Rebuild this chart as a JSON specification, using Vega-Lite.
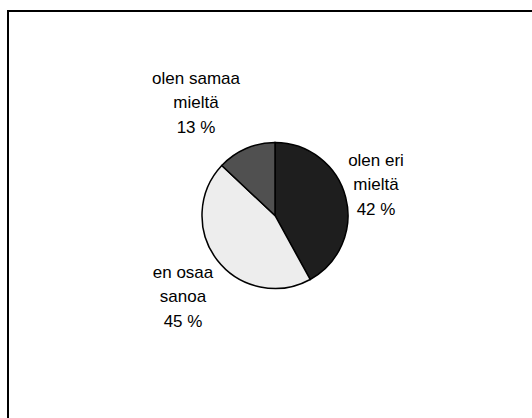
{
  "$schema": "https://vega.github.io/schema/vega-lite/v6.json",
  "width": 534,
  "height": 409,
  "autosize": {"type": "none"},
  "padding": {"left": 8, "top": 11, "right": -10, "bottom": -2},
  "background": "white",
  "view": {"stroke": "black", "strokeWidth": 2, "fill": "white"},
  "data": {
    "values": [
      {"n": 1, "category": "olen eri mieltä", "share": 42, "label": "olen eri\nmieltä\n42 %"},
      {"n": 2, "category": "en osaa sanoa", "share": 45, "label": "en osaa\nsanoa\n45 %"},
      {"n": 3, "category": "olen samaa mieltä", "share": 13, "label": "olen samaa\nmieltä\n13 %"}
    ]
  },
  "layer": [
    {
      "mark": {"type": "arc", "outerRadius": 73, "stroke": "black", "strokeWidth": 1.5},
      "encoding": {
        "theta": {"field": "share", "type": "quantitative", "stack": true},
        "color": {
          "field": "category",
          "type": "nominal",
          "scale": {
            "domain": ["olen eri mieltä", "en osaa sanoa", "olen samaa mieltä"],
            "range": ["#1e1e1e", "#ededed", "#505050"]
          },
          "legend": null
        },
        "order": {"field": "n", "type": "quantitative", "sort": "ascending"}
      }
    },
    {
      "transform": [{"filter": "datum.category == 'olen eri mieltä'"}],
      "mark": {"type": "text", "font": "Liberation Sans", "fontSize": 17, "lineBreak": "\n", "lineHeight": 24.5, "align": "center", "baseline": "middle", "dx": 101, "dy": -55, "color": "black"},
      "encoding": {"text": {"field": "label", "type": "nominal"}}
    },
    {
      "transform": [{"filter": "datum.category == 'en osaa sanoa'"}],
      "mark": {"type": "text", "font": "Liberation Sans", "fontSize": 17, "lineBreak": "\n", "lineHeight": 24.5, "align": "center", "baseline": "middle", "dx": -92, "dy": 57, "color": "black"},
      "encoding": {"text": {"field": "label", "type": "nominal"}}
    },
    {
      "transform": [{"filter": "datum.category == 'olen samaa mieltä'"}],
      "mark": {"type": "text", "font": "Liberation Sans", "fontSize": 17, "lineBreak": "\n", "lineHeight": 24.5, "align": "center", "baseline": "middle", "dx": -79, "dy": -137, "color": "black"},
      "encoding": {"text": {"field": "label", "type": "nominal"}}
    }
  ]
}
